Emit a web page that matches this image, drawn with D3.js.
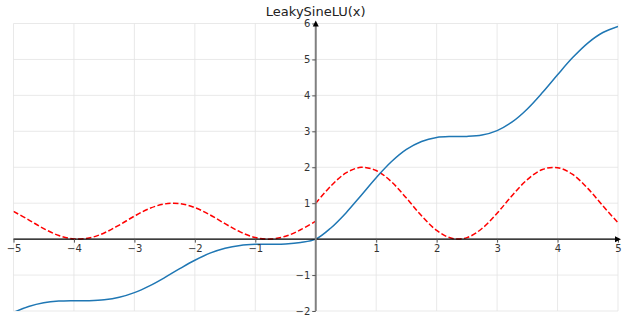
<!DOCTYPE html>
<html>
<head>
<meta charset="utf-8">
<script src="https://cdn.jsdelivr.net/npm/d3@7"></script>
<style>
  body { margin: 0; background: #fff; }
  svg text { font-family: "DejaVu Sans", sans-serif; }
</style>
</head>
<body>
<div class="chart"></div>
<script>
var xsLeft = [-5, -4.75, -4.5, -4.25, -4, -3.75, -3.5, -3.25, -3, -2.75, -2.5, -2.25, -2, -1.75, -1.5, -1.25, -1, -0.75, -0.5, -0.25, 0];
var xsRight = [0, 0.25, 0.5, 0.75, 1, 1.25, 1.5, 1.75, 2, 2.25, 2.5, 2.75, 3, 3.25, 3.5, 3.75, 4, 4.25, 4.5, 4.75, 5];

// blue: LeakySineLU(x)
var fLeft = [-2.04, -1.876, -1.772, -1.725, -1.714, -1.712, -1.688, -1.619, -1.49, -1.302, -1.071, -0.822, -0.587, -0.391, -0.253, -0.175, -0.146, -0.143, -0.135, -0.094, 0];
var fRight = [0, 0.311, 0.73, 1.215, 1.708, 2.151, 2.495, 2.718, 2.827, 2.855, 2.858, 2.896, 3.02, 3.262, 3.623, 4.077, 4.573, 5.051, 5.456, 5.749, 5.92];

// red dashed: derivative
var dLeft = [0.772, 0.538, 0.294, 0.101, 0.005, 0.031, 0.172, 0.392, 0.64, 0.853, 0.979, 0.989, 0.878, 0.675, 0.429, 0.201, 0.045, 0.001, 0.079, 0.26, 0.5];
var dRight = [1, 1.479, 1.841, 1.998, 1.909, 1.599, 1.141, 0.649, 0.243, 0.023, 0.041, 0.295, 0.721, 1.215, 1.657, 1.938, 1.989, 1.799, 1.412, 0.925, 0.456];

var xTicks = [-5, -4, -3, -2, -1, 1, 2, 3, 4, 5];
var yTicks = [-2, -1, 1, 2, 3, 4, 5, 6];
var titleText = "LeakySineLU(x)";

var w = 633, h = 318;
var svg = d3.select(".chart").append("svg")
    .attr("width", w)
    .attr("height", h);

var x = d3.scaleLinear().domain([-5, 5]).range([13.5, 618]);
var y = d3.scaleLinear().domain([-2, 6]).range([311, 23.5]);

svg.append("defs").append("clipPath").attr("id", "clip")
  .append("rect")
    .attr("x", x(-5)).attr("y", y(6))
    .attr("width", x(5) - x(-5)).attr("height", y(-2) - y(6));

// grid
var grid = svg.append("g").attr("stroke", "#e3e3e3").attr("stroke-width", 0.8);
grid.selectAll(".gx").data(d3.range(-5, 6)).enter().append("line")
    .attr("x1", function(d) { return x(d); }).attr("x2", function(d) { return x(d); })
    .attr("y1", y(-2)).attr("y2", y(6));
grid.selectAll(".gy").data(d3.range(-2, 7)).enter().append("line")
    .attr("x1", x(-5)).attr("x2", x(5))
    .attr("y1", function(d) { return y(d); }).attr("y2", function(d) { return y(d); });

// curves
function pts(xs, ys) {
    return xs.map(function(v, i) { return [v, ys[i]]; });
}
var line = d3.line()
    .x(function(d) { return x(d[0]); })
    .y(function(d) { return y(d[1]); })
    .curve(d3.curveCatmullRom.alpha(0.5));

var plot = svg.append("g").attr("clip-path", "url(#clip)");
plot.append("path")
    .attr("d", line(pts(xsLeft, dLeft)))
    .attr("fill", "none").attr("stroke", "#ff0000").attr("stroke-width", 1.5)
    .attr("stroke-dasharray", "5.5,2.4");
plot.append("path")
    .attr("d", line(pts(xsRight, dRight)))
    .attr("fill", "none").attr("stroke", "#ff0000").attr("stroke-width", 1.5)
    .attr("stroke-dasharray", "5.5,2.4");
plot.append("path")
    .attr("d", line(pts(xsLeft, fLeft).concat(pts(xsRight, fRight).slice(1))))
    .attr("fill", "none").attr("stroke", "#1f77b4").attr("stroke-width", 1.5);

// x axis through y=0
var xAxis = d3.axisBottom(x).tickValues(xTicks).tickSize(3.5).tickPadding(2)
    .tickFormat(function(d) { return d3.format("")(d).replace("-", "\u2212"); });
var gx = svg.append("g").attr("transform", "translate(0," + y(0) + ")").call(xAxis);
gx.select(".domain").attr("stroke", "#000").attr("stroke-width", 1.2).attr("d", "M" + x(-5) + ",0H" + x(5));
gx.selectAll(".tick line").attr("stroke", "#555");
gx.selectAll(".tick text").attr("font-size", 10).attr("fill", "#333");

// y axis through x=0
var yAxis = d3.axisLeft(y).tickValues(yTicks).tickSize(3.5).tickPadding(2)
    .tickFormat(function(d) { return d3.format("")(d).replace("-", "\u2212"); });
var gy = svg.append("g").attr("transform", "translate(" + x(0) + ",0)").call(yAxis);
gy.select(".domain").attr("stroke", "#808080").attr("stroke-width", 2).attr("d", "M0," + y(-2) + "V" + y(6));
gy.selectAll(".tick line").attr("stroke", "#555");
gy.selectAll(".tick text").attr("font-size", 10).attr("fill", "#333");

// arrow heads
svg.append("path")
    .attr("d", "M" + (x(5) + 3) + "," + y(0) + "l-6,-3v6z")
    .attr("fill", "#000");
svg.append("path")
    .attr("d", "M" + x(0) + "," + (y(6) - 3) + "l-3,6h6z")
    .attr("fill", "#000");

// title
svg.append("text")
    .attr("x", x(0)).attr("y", 15.5)
    .attr("text-anchor", "middle")
    .attr("font-size", 13)
    .attr("fill", "#222")
    .text(titleText);
</script>
</body>
</html>
